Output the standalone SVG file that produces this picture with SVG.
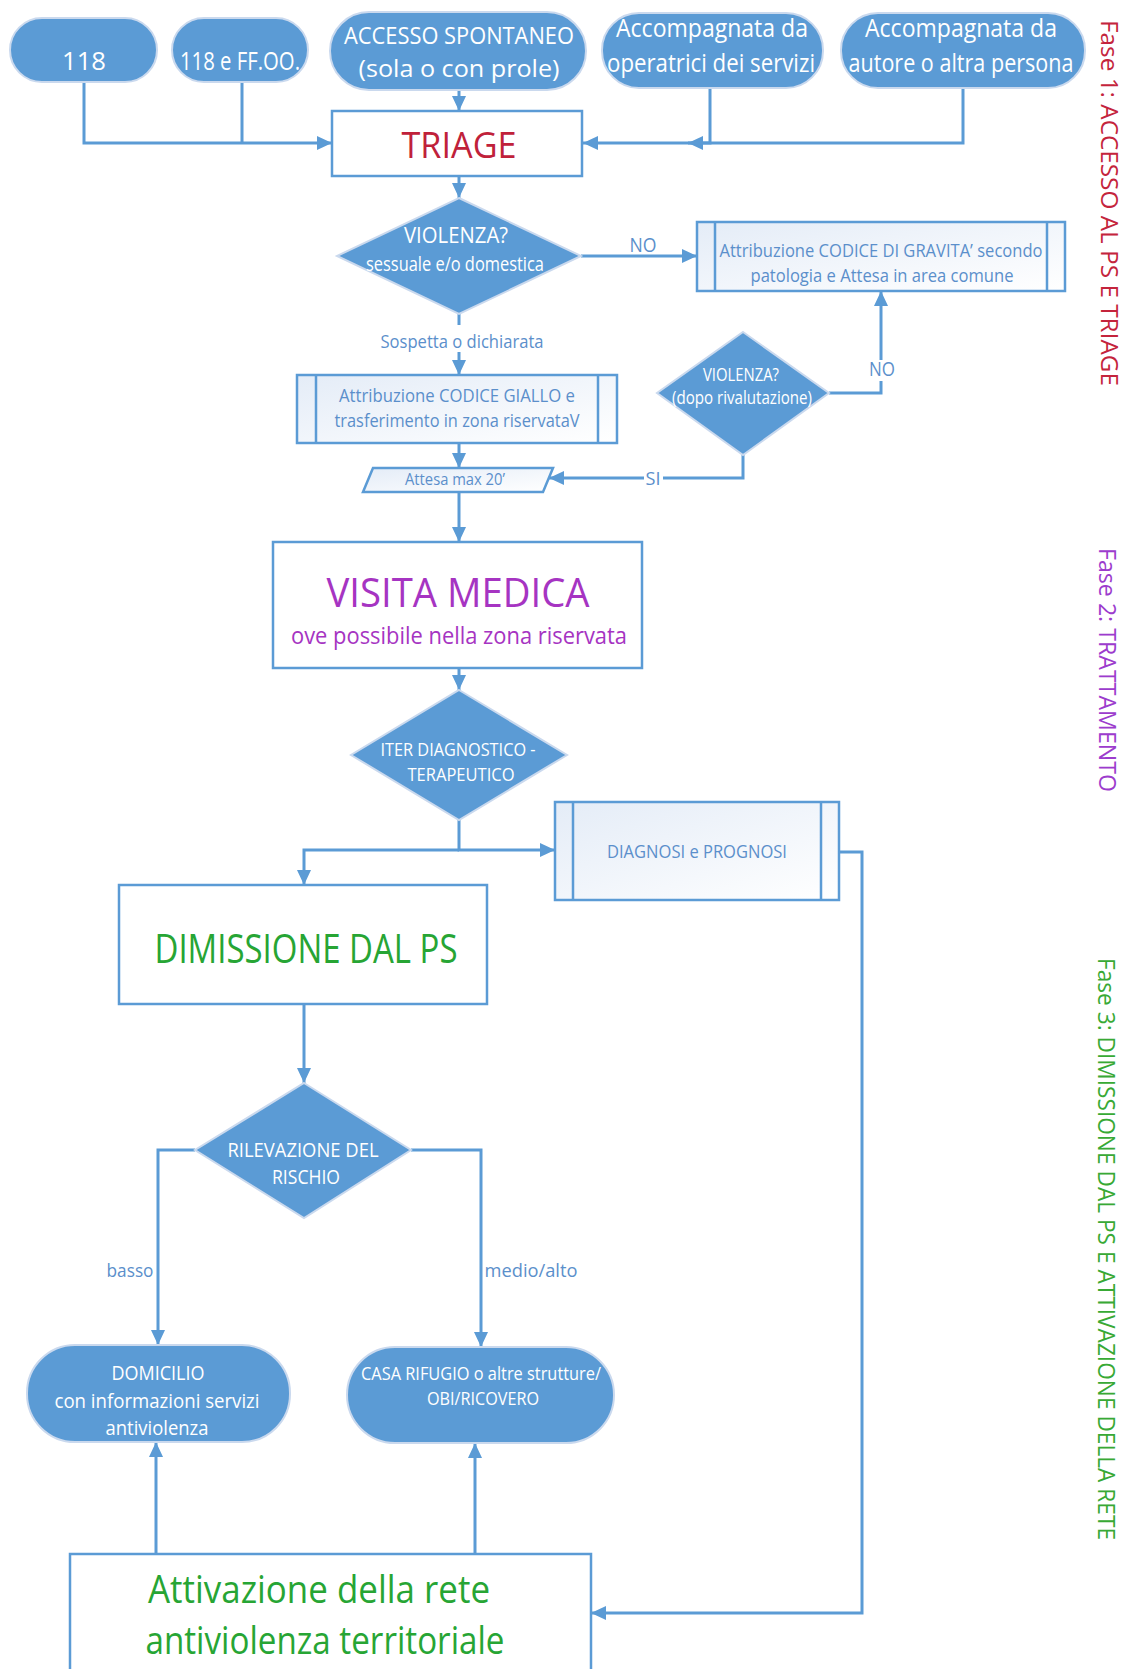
<svg xmlns="http://www.w3.org/2000/svg" width="1132" height="1669" viewBox="0 0 1132 1669">
<defs>
<style>
.t{font-family:"Open Sans","Liberation Sans",sans-serif;text-anchor:middle}
.w{fill:#ffffff}
.lb{fill:#5b8fcb}
.blue{fill:#5b9bd5;stroke:#cad9ee;stroke-width:2}
.box{fill:#ffffff;stroke:#5b9bd5;stroke-width:2.5}
.proc{fill:url(#pg);stroke:#5b9bd5;stroke-width:2.5}
.bar{stroke:#5b9bd5;stroke-width:2.5}
.c{fill:none;stroke:#5b9bd5;stroke-width:3}
</style>
<linearGradient id="pg" x1="0" y1="0" x2="1" y2="1">
<stop offset="0" stop-color="#e4ecf7"/>
<stop offset="1" stop-color="#ffffff"/>
</linearGradient>
<marker id="ah" markerWidth="15" markerHeight="14" refX="15" refY="7" orient="auto" markerUnits="userSpaceOnUse">
<path d="M0,0 L15,7 L0,14 z" fill="#5b9bd5"/>
</marker>
</defs>
<rect x="0" y="0" width="1132" height="1669" fill="#ffffff"/>

<g id="connectors">
<path class="c" d="M84,82 V143 H332" marker-end="url(#ah)"/>
<path class="c" d="M242,82 V143"/>
<path class="c" d="M459,90 V111" marker-end="url(#ah)"/>
<path class="c" d="M710,88 V143 H583" marker-end="url(#ah)"/>
<path class="c" d="M963,88 V143 H688" marker-end="url(#ah)"/>
<path class="c" d="M459,176 V198" marker-end="url(#ah)"/>
<path class="c" d="M581,256 H697" marker-end="url(#ah)"/>
<text class="t lb" x="643" y="252" font-size="20" textLength="27" lengthAdjust="spacingAndGlyphs">NO</text>
<path class="c" d="M459,314 V325"/>
<path class="c" d="M459,352 V375" marker-end="url(#ah)"/>
<text class="t lb" x="462" y="348" font-size="19" textLength="163" lengthAdjust="spacingAndGlyphs">Sospetta o dichiarata</text>
<path class="c" d="M829,393 H881 V381"/>
<path class="c" d="M881,360 V291" marker-end="url(#ah)"/>
<text class="t lb" x="882" y="376" font-size="20" textLength="26" lengthAdjust="spacingAndGlyphs">NO</text>
<path class="c" d="M743,455 V478 H663"/>
<path class="c" d="M644,478 H549" marker-end="url(#ah)"/>
<text class="t lb" x="653" y="485" font-size="19" textLength="15" lengthAdjust="spacingAndGlyphs">SI</text>
<path class="c" d="M459,443 V468" marker-end="url(#ah)"/>
<path class="c" d="M459,492 V542" marker-end="url(#ah)"/>
<path class="c" d="M459,668 V690" marker-end="url(#ah)"/>
<path class="c" d="M459,820 V850 H555" marker-end="url(#ah)"/>
<path class="c" d="M459,850 H304 V885" marker-end="url(#ah)"/>
<path class="c" d="M839,852 H862 V1613 H591" marker-end="url(#ah)"/>
<path class="c" d="M304,1004 V1083" marker-end="url(#ah)"/>
<path class="c" d="M195,1150 H158 V1345" marker-end="url(#ah)"/>
<path class="c" d="M411,1150 H481 V1347" marker-end="url(#ah)"/>
<text class="t lb" x="130" y="1277" font-size="19" textLength="47" lengthAdjust="spacingAndGlyphs">basso</text>
<text class="t lb" x="531" y="1277" font-size="19" textLength="93" lengthAdjust="spacingAndGlyphs">medio/alto</text>
<path class="c" d="M156,1554 V1442" marker-end="url(#ah)"/>
<path class="c" d="M475,1554 V1443" marker-end="url(#ah)"/>
</g>

<g id="n118">
<rect class="blue" x="10" y="18" width="147" height="64" rx="32"/>
<text class="t w" x="84" y="70" font-size="26" textLength="44" lengthAdjust="spacingAndGlyphs">118</text>
</g>
<g id="n118ff">
<rect class="blue" x="172" y="18" width="136" height="64" rx="32"/>
<text class="t w" x="240" y="70" font-size="26" textLength="120" lengthAdjust="spacingAndGlyphs">118 e FF.OO.</text>
</g>
<g id="accesso">
<rect class="blue" x="330" y="12" width="256" height="78" rx="39"/>
<text class="t w" x="459" y="44" font-size="24" textLength="230" lengthAdjust="spacingAndGlyphs">ACCESSO SPONTANEO</text>
<text class="t w" x="459" y="77" font-size="24" textLength="201" lengthAdjust="spacingAndGlyphs">(sola o con prole)</text>
</g>
<g id="operatrici">
<rect class="blue" x="602" y="13" width="221" height="75" rx="37"/>
<text class="t w" x="712" y="37" font-size="25" textLength="192" lengthAdjust="spacingAndGlyphs">Accompagnata da</text>
<text class="t w" x="711" y="72" font-size="25" textLength="208" lengthAdjust="spacingAndGlyphs">operatrici dei servizi</text>
</g>
<g id="autore">
<rect class="blue" x="841" y="13" width="244" height="75" rx="37"/>
<text class="t w" x="961" y="37" font-size="25" textLength="192" lengthAdjust="spacingAndGlyphs">Accompagnata da</text>
<text class="t w" x="961" y="72" font-size="25" textLength="225" lengthAdjust="spacingAndGlyphs">autore o altra persona</text>
</g>

<g id="triage">
<rect class="box" x="332" y="111" width="250" height="65"/>
<text class="t" x="459" y="158" font-size="36" fill="#c0213a" textLength="115" lengthAdjust="spacingAndGlyphs">TRIAGE</text>
</g>

<g id="violenza1">
<polygon class="blue" points="459,198 581,256 459,314 337,256"/>
<text class="t w" x="456" y="243" font-size="21" textLength="104" lengthAdjust="spacingAndGlyphs">VIOLENZA?</text>
<text class="t w" x="455" y="271" font-size="20" textLength="178" lengthAdjust="spacingAndGlyphs">sessuale e/o domestica</text>
</g>

<g id="gravita">
<rect class="proc" x="697" y="222" width="368" height="69"/>
<line class="bar" x1="715" y1="222" x2="715" y2="291"/>
<line class="bar" x1="1047" y1="222" x2="1047" y2="291"/>
<text class="t lb" x="881" y="257" font-size="19" textLength="323" lengthAdjust="spacingAndGlyphs">Attribuzione CODICE DI GRAVITA’ secondo</text>
<text class="t lb" x="882" y="282" font-size="19" textLength="263" lengthAdjust="spacingAndGlyphs">patologia e Attesa in area comune</text>
</g>

<g id="giallo">
<rect class="proc" x="297" y="375" width="320" height="68"/>
<line class="bar" x1="316" y1="375" x2="316" y2="443"/>
<line class="bar" x1="598" y1="375" x2="598" y2="443"/>
<text class="t lb" x="457" y="402" font-size="19" textLength="236" lengthAdjust="spacingAndGlyphs">Attribuzione CODICE GIALLO e</text>
<text class="t lb" x="457" y="427" font-size="19" textLength="245" lengthAdjust="spacingAndGlyphs">trasferimento in zona riservataV</text>
</g>

<g id="violenza2">
<polygon class="blue" points="743,332 829,393 743,455 657,393"/>
<text class="t w" x="741" y="381" font-size="18" textLength="76" lengthAdjust="spacingAndGlyphs">VIOLENZA?</text>
<text class="t w" x="742" y="404" font-size="18" textLength="140" lengthAdjust="spacingAndGlyphs">(dopo rivalutazione)</text>
</g>

<g id="attesa">
<polygon class="proc" points="373,468 553,468 543,492 363,492"/>
<text class="t lb" x="455" y="485" font-size="17" textLength="100" lengthAdjust="spacingAndGlyphs">Attesa max 20’</text>
</g>

<g id="visita">
<rect class="box" x="273" y="542" width="369" height="126"/>
<text class="t" x="458" y="607" font-size="40" fill="#a634c2" textLength="263" lengthAdjust="spacingAndGlyphs">VISITA MEDICA</text>
<text class="t" x="459" y="644" font-size="24" fill="#a634c2" textLength="336" lengthAdjust="spacingAndGlyphs">ove possibile nella zona riservata</text>
</g>

<g id="iter">
<polygon class="blue" points="459,690 567,755 459,820 351,755"/>
<text class="t w" x="458" y="756" font-size="19" textLength="155" lengthAdjust="spacingAndGlyphs">ITER DIAGNOSTICO -</text>
<text class="t w" x="461" y="781" font-size="19" textLength="107" lengthAdjust="spacingAndGlyphs">TERAPEUTICO</text>
</g>

<g id="diagnosi">
<rect class="proc" x="555" y="802" width="284" height="98"/>
<line class="bar" x1="573" y1="802" x2="573" y2="900"/>
<line class="bar" x1="821" y1="802" x2="821" y2="900"/>
<text class="t lb" x="697" y="858" font-size="19" textLength="180" lengthAdjust="spacingAndGlyphs">DIAGNOSI e PROGNOSI</text>
</g>

<g id="dimissione">
<rect class="box" x="119" y="885" width="368" height="119"/>
<text class="t" x="306" y="963" font-size="41" fill="#27a534" textLength="303" lengthAdjust="spacingAndGlyphs">DIMISSIONE DAL PS</text>
</g>

<g id="rischio">
<polygon class="blue" points="304,1083 411,1150 304,1218 195,1150"/>
<text class="t w" x="303" y="1157" font-size="20" textLength="151" lengthAdjust="spacingAndGlyphs">RILEVAZIONE DEL</text>
<text class="t w" x="306" y="1184" font-size="20" textLength="68" lengthAdjust="spacingAndGlyphs">RISCHIO</text>
</g>

<g id="domicilio">
<rect class="blue" x="27" y="1345" width="263" height="97" rx="48"/>
<text class="t w" x="158" y="1380" font-size="20" textLength="93" lengthAdjust="spacingAndGlyphs">DOMICILIO</text>
<text class="t w" x="157" y="1408" font-size="20" textLength="205" lengthAdjust="spacingAndGlyphs">con informazioni servizi</text>
<text class="t w" x="157" y="1435" font-size="20" textLength="103" lengthAdjust="spacingAndGlyphs">antiviolenza</text>
</g>

<g id="casa">
<rect class="blue" x="347" y="1347" width="267" height="96" rx="48"/>
<text class="t w" x="481" y="1380" font-size="19" textLength="240" lengthAdjust="spacingAndGlyphs">CASA RIFUGIO o altre strutture/</text>
<text class="t w" x="483" y="1405" font-size="19" textLength="112" lengthAdjust="spacingAndGlyphs">OBI/RICOVERO</text>
</g>

<g id="attivazione">
<rect class="box" x="70" y="1554" width="521" height="140"/>
<text class="t" x="319" y="1603" font-size="38" fill="#27a534" textLength="342" lengthAdjust="spacingAndGlyphs">Attivazione della rete</text>
<text class="t" x="325" y="1654" font-size="38" fill="#27a534" textLength="359" lengthAdjust="spacingAndGlyphs">antiviolenza territoriale</text>
</g>

<g id="fasi">
<text class="t" transform="translate(1101,203) rotate(90)" x="0" y="0" font-size="23" fill="#c4243c" textLength="366" lengthAdjust="spacingAndGlyphs">Fase 1: ACCESSO AL PS E TRIAGE</text>
<text class="t" transform="translate(1099,670) rotate(90)" x="0" y="0" font-size="23" fill="#9c3ccd" textLength="244" lengthAdjust="spacingAndGlyphs">Fase 2: TRATTAMENTO</text>
<text class="t" transform="translate(1098,1249) rotate(90)" x="0" y="0" font-size="23" fill="#38a935" textLength="582" lengthAdjust="spacingAndGlyphs">Fase 3: DIMISSIONE DAL PS E ATTIVAZIONE DELLA RETE</text>
</g>
</svg>
